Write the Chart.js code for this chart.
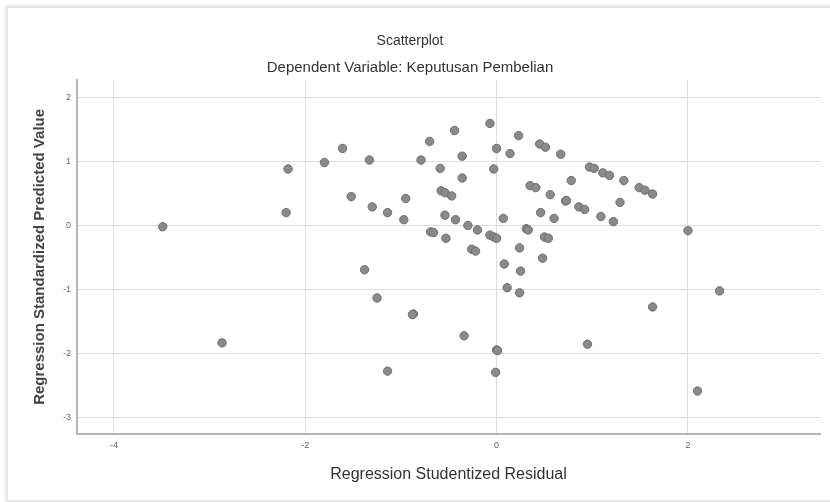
<!DOCTYPE html>
<html>
<head>
<meta charset="utf-8">
<script src="https://cdn.jsdelivr.net/npm/chart.js@4"></script>
<style>
  body { margin: 0; background: #fff; }
  #wrap { position: relative; width: 830px; height: 502px; overflow: hidden; }
  #card {
    position: absolute; left: 6px; top: 6px; width: 840px; height: 492px;
    border: 2px solid #e6e6e6; box-shadow: 0 0 4px #ddd;
  }
  canvas { position: absolute; left: 0; top: 0; }
</style>
</head>
<body>
<div id="wrap">
  <div id="card"></div>
  <canvas id="scatter" width="830" height="502"></canvas>
</div>
<script>
// residuals (x) and predicted values (y)
const residuals = [
  -3.49, -2.18, -2.20, -1.80, -1.61, -1.33, -1.52, -1.30, -1.14, -0.95,
  -0.97, -0.79, -0.70, -0.44, -0.36, -0.59, -0.36, -0.58, -0.54, -0.47,
  -0.54, -0.43, -0.30, -0.20, -0.69, -0.66, -0.53, -0.26, -0.22, -0.07,
  0.00, -0.03, 0.14, 0.23, 0.35, 0.07, -0.07, -0.03, 0.00, 0.31,
  0.33, 0.24, 0.08, 0.25, -1.38, 0.45, 0.51, 0.67, 0.97, 1.02,
  1.11, 1.18, 1.33, 1.49, 1.55, 1.63, 0.78, 0.41, 0.56, 0.72,
  0.73, 0.86, 0.92, 1.29, 1.09, 1.22, 0.46, 0.60, 0.50, 0.54,
  0.48, 2.00, -2.87, -1.25, -0.87, -0.88, -0.34, 0.00, 0.01, -0.01,
  -1.14, 0.11, 0.24, 2.33, 1.63, 0.95, 2.10
];
const predicted = [
  -0.02, 0.88, 0.20, 0.98, 1.20, 1.02, 0.45, 0.29, 0.20, 0.42,
  0.09, 1.02, 1.31, 1.48, 1.08, 0.89, 0.74, 0.54, 0.51, 0.46,
  0.16, 0.09, 0.00, -0.07, -0.10, -0.11, -0.20, -0.37, -0.40, 1.59,
  1.20, 0.88, 1.12, 1.40, 0.62, 0.11, -0.15, -0.18, -0.20, -0.05,
  -0.07, -0.35, -0.60, -0.71, -0.69, 1.27, 1.22, 1.11, 0.91, 0.89,
  0.82, 0.78, 0.70, 0.59, 0.55, 0.49, 0.70, 0.59, 0.48, 0.38,
  0.39, 0.29, 0.25, 0.36, 0.14, 0.06, 0.20, 0.11, -0.18, -0.20,
  -0.51, -0.08, -1.83, -1.13, -1.38, -1.39, -1.72, -1.94, -1.95, -2.29,
  -2.27, -0.97, -1.05, -1.02, -1.27, -1.85, -2.58
];
const xTicks = [-4, -2, 0, 2];
const yTicks = [-3, -2, -1, 0, 1, 2];

const points = residuals.map((r, i) => ({ x: r, y: predicted[i] }));

const fontFam = "'Liberation Sans', Arial, sans-serif";

new Chart(document.getElementById("scatter"), {
  type: "scatter",
  data: {
    datasets: [{
      data: points,
      backgroundColor: "#8a8a8a",
      borderColor: "#6e6e6e",
      borderWidth: 1,
      pointRadius: 4.2,
      pointHoverRadius: 4.2
    }]
  },
  options: {
    responsive: false,
    animation: false,
    layout: { padding: { left: 0, right: 10, top: 0, bottom: 0 } },
    plugins: {
      legend: { display: false },
      tooltip: { enabled: false },
      title: {
        display: true,
        text: "Scatterplot",
        color: "#333",
        font: { family: fontFam, size: 14, weight: "normal" },
        padding: { top: 33, bottom: 9 }
      },
      subtitle: {
        display: true,
        text: "Dependent Variable: Keputusan Pembelian",
        color: "#333",
        font: { family: fontFam, size: 15, weight: "normal" },
        padding: { top: 0, bottom: 3 }
      }
    },
    scales: {
      x: {
        type: "linear",
        min: -4.386,
        max: 3.38,
        afterBuildTicks: s => { s.ticks = xTicks.map(v => ({ value: v })); },
        afterFit: s => { s.height = 68; },
        grid: { color: "#dcdcdc", lineWidth: 1, drawTicks: false },
        border: { color: "#b4b4b4", width: 2 },
        ticks: { color: "#666", font: { family: fontFam, size: 9 }, padding: 6 },
        title: {
          display: true,
          text: "Regression Studentized Residual",
          color: "#333",
          font: { family: fontFam, size: 16, weight: "normal" },
          padding: { top: 18, bottom: 18 }
        }
      },
      y: {
        type: "linear",
        min: -3.25,
        max: 2.27,
        afterBuildTicks: s => { s.ticks = yTicks.map(v => ({ value: v })); },
        afterFit: s => { s.width = 77; },
        grid: { color: "#dcdcdc", lineWidth: 1, drawTicks: false },
        border: { color: "#b4b4b4", width: 2 },
        ticks: { color: "#666", font: { family: fontFam, size: 9 }, padding: 6 },
        title: {
          display: true,
          text: "Regression Standardized Predicted Value",
          color: "#444",
          font: { family: fontFam, size: 15, weight: "bold" },
          padding: { top: 31, bottom: 31 }
        }
      }
    }
  }
});
</script>
</body>
</html>
